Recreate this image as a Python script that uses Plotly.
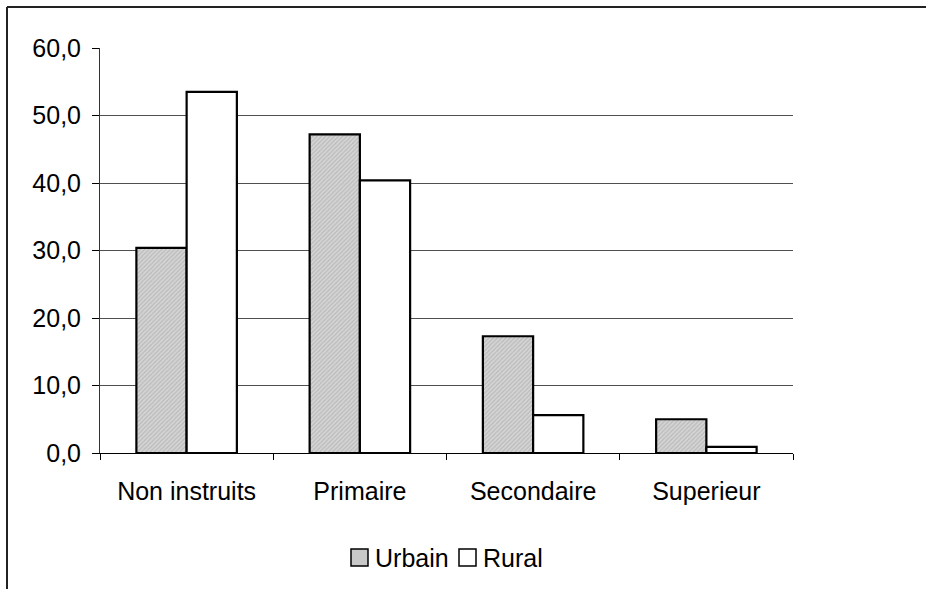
import plotly.graph_objects as go

categories = ["Non instruits", "Primaire", "Secondaire", "Superieur"]
urbain = [30.4, 47.2, 17.3, 5.0]
rural = [53.5, 40.4, 5.6, 0.9]
y_ticks = [0, 10, 20, 30, 40, 50, 60]
series_names = ["Urbain", "Rural"]

W, H = 926, 589
PX0, PX1 = 100, 793      # plot area x (pixels)
PY0, PY1 = 48, 453       # plot area y (pixels)
L, R, T, B = PX0, W - PX1, PY0, H - PY1
pw = PX1 - PX0
ph = PY1 - PY0


def px(x):
    return (x - PX0) / pw


def py(y):
    return (PY1 - y) / ph


URB_FILL = "#c8c8c8"
font = "Liberation Sans, Arial, sans-serif"
FS = 25

fig = go.Figure()
fig.add_trace(go.Bar(
    x=categories, y=urbain, name=series_names[0], showlegend=False,
    marker=dict(color=URB_FILL, line=dict(color="black", width=2.2),
                pattern=dict(shape="/", fgcolor="#9a9a9a", bgcolor="#d4d4d4", size=3, solidity=0.35)),
))
fig.add_trace(go.Bar(
    x=categories, y=rural, name=series_names[1], showlegend=False,
    marker=dict(color="white", line=dict(color="black", width=2.2)),
))

fig.update_layout(
    width=W, height=H,
    margin=dict(l=L, r=R, t=T, b=B, pad=0),
    plot_bgcolor="white", paper_bgcolor="white",
    barmode="group", bargap=0.42, bargroupgap=0,
    separators=", ",
    font=dict(family=font, size=FS, color="black"),
    showlegend=False,
    xaxis=dict(
        showline=True, linecolor="black", linewidth=1,
        ticks="outside", ticklen=6, tickcolor="black", tickson="boundaries",
        showgrid=False, tickfont=dict(size=FS), ticklabelstandoff=16,
    ),
    yaxis=dict(
        range=[0, 60], tickvals=y_ticks, tickformat=".1f",
        showline=True, linecolor="#333333", linewidth=1,
        ticks="outside", ticklen=7, tickcolor="black",
        showgrid=True, gridcolor="#505050", gridwidth=1, zeroline=False,
        tickfont=dict(size=FS), ticklabelstandoff=6,
    ),
)

# outer frame (top and left edges visible; extends beyond page)
fx = px(7)
fy = py(7)
fig.add_shape(type="line", xref="paper", yref="paper", x0=fx, x1=px(W + 20), y0=fy, y1=fy,
              line=dict(color="#222222", width=2))
fig.add_shape(type="line", xref="paper", yref="paper", x0=fx, x1=fx, y0=fy, y1=py(H + 20),
              line=dict(color="#222222", width=2))

# legend drawn manually to match the reference layout
legend_items = [
    (series_names[0], URB_FILL, 351, 373),
    (series_names[1], "white", 459, 481),
]
for name, fill, sx, tx in legend_items:
    fig.add_shape(type="rect", xref="paper", yref="paper",
                  x0=px(sx), x1=px(sx + 17), y0=py(566), y1=py(549),
                  fillcolor=fill, line=dict(color="black", width=1.5))
    fig.add_annotation(xref="paper", yref="paper", x=px(tx), y=py(557.5),
                       text=name, showarrow=False, xanchor="left", yanchor="middle",
                       font=dict(size=FS, family=font, color="black"))

fig.write_html("out.html", config={"displayModeBar": False},
               post_script="document.body.style.margin='0';")
